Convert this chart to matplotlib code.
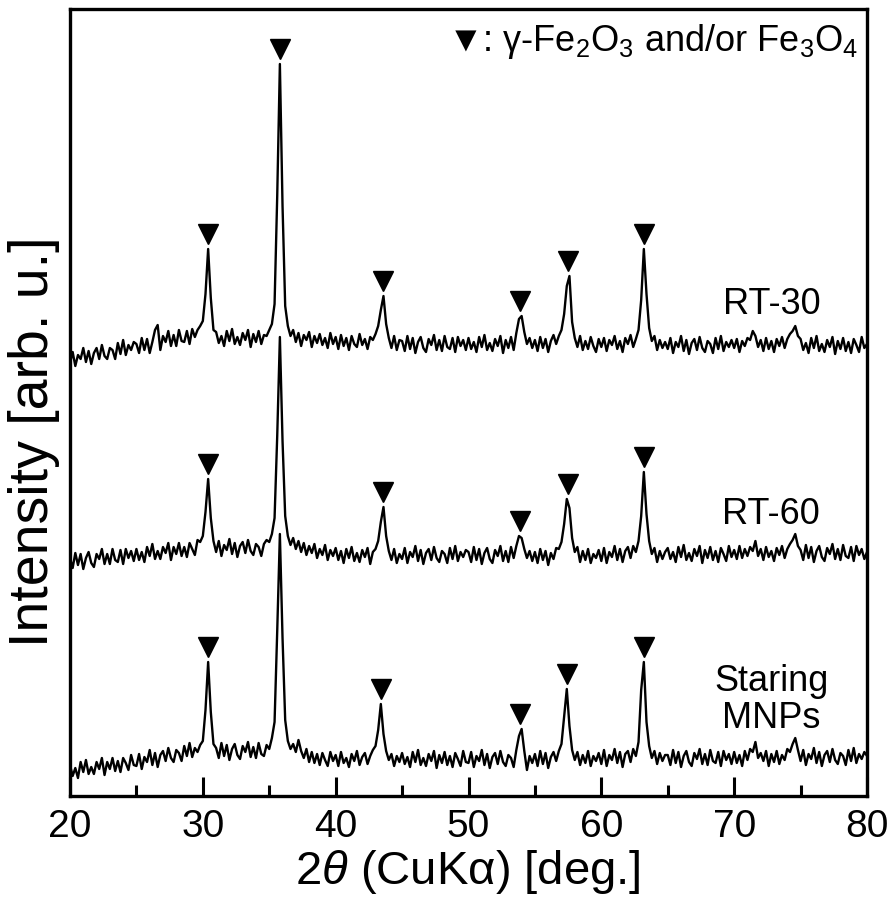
import numpy as np
import matplotlib
matplotlib.use("Agg")
import matplotlib.pyplot as plt
from matplotlib.transforms import ScaledTranslation

plt.rcParams['font.family'] = ['Liberation Sans', 'DejaVu Sans']
plt.rcParams['mathtext.fontset'] = 'custom'
plt.rcParams['mathtext.rm'] = 'Liberation Sans'
plt.rcParams['mathtext.it'] = 'Liberation Sans:italic'

# 2theta scan grid: 20-80 deg, 0.2 deg step
two_theta = np.linspace(20.0, 80.0, 301)

# Intensities (arb. u.), each row = 5 deg
staring_mnps = [
    31, 20, 28, 18, 34, 24, 36, 22, 29, 22, 34, 27, 38, 21, 34, 27, 38, 25, 35, 24, 38, 33, 26, 41, 31,
    30, 42, 27, 39, 34, 46, 31, 43, 29, 41, 45, 35, 48, 38, 34, 46, 43, 35, 50, 40, 53, 39, 48, 44, 51,
    55, 86, 134, 84, 52, 48, 38, 53, 40, 51, 36, 47, 52, 41, 37, 50, 44, 54, 39, 49, 38, 53, 42, 40, 51,
    47, 58, 74, 165, 262, 158, 76, 55, 47, 52, 44, 56, 45, 38, 47, 34, 44, 33, 42, 31, 43, 36, 30, 44, 35,
    41, 30, 44, 33, 38, 29, 42, 35, 45, 31, 39, 43, 32, 40, 46, 50, 66, 92, 62, 45, 36, 42, 30, 40, 34,
    43, 32, 39, 29, 44, 34, 46, 31, 38, 30, 42, 35, 45, 28, 41, 33, 44, 31, 40, 29, 43, 37, 30, 45, 34,
    33, 44, 29, 40, 35, 46, 31, 42, 28, 39, 43, 32, 45, 34, 30, 41, 38, 29, 46, 60, 67, 45, 26, 40, 33,
    42, 30, 45, 32, 43, 28, 39, 44, 35, 45, 52, 80, 107, 70, 46, 36, 44, 31, 41, 33, 45, 30, 40, 35, 43,
    32, 46, 30, 41, 36, 47, 33, 44, 29, 42, 45, 34, 47, 40, 54, 106, 134, 74, 50, 38, 45, 32, 43, 35, 41,
    41, 31, 46, 33, 44, 29, 40, 45, 34, 30, 43, 37, 47, 32, 42, 31, 46, 35, 33, 44, 30, 45, 36, 42, 32,
    44, 33, 41, 30, 45, 36, 47, 44, 54, 38, 43, 35, 45, 30, 42, 34, 45, 32, 41, 36, 47, 44, 52, 58, 46,
    35, 46, 31, 42, 37, 48, 33, 44, 30, 41, 45, 34, 47, 36, 32, 43, 40, 31, 46, 35, 48, 33, 42, 37, 44,
    40,
]

rt_60 = [
    38, 28, 43, 31, 42, 27, 38, 44, 33, 29, 42, 37, 47, 32, 42, 32, 47, 36, 34, 46, 32, 47, 38, 45, 35,
    47, 36, 44, 34, 49, 40, 52, 37, 45, 37, 49, 43, 53, 36, 49, 42, 53, 40, 49, 39, 53, 47, 41, 56, 54,
    60, 84, 117, 78, 55, 44, 55, 40, 51, 46, 57, 42, 53, 39, 50, 54, 43, 56, 45, 41, 52, 49, 40, 52, 56,
    54, 62, 78, 160, 259, 155, 80, 60, 51, 58, 47, 55, 44, 53, 41, 50, 43, 52, 38, 47, 41, 51, 36, 46, 40,
    48, 36, 45, 33, 47, 38, 49, 35, 43, 34, 46, 39, 48, 32, 44, 47, 55, 74, 89, 60, 45, 36, 47, 33, 42,
    37, 48, 33, 44, 39, 50, 35, 46, 32, 43, 47, 36, 49, 38, 34, 45, 42, 33, 48, 37, 50, 35, 44, 39, 46,
    44, 34, 49, 36, 47, 32, 43, 48, 37, 33, 46, 40, 50, 35, 45, 34, 49, 38, 50, 60, 58, 47, 38, 45, 35,
    44, 33, 47, 36, 45, 31, 43, 37, 48, 47, 54, 72, 97, 88, 58, 44, 49, 34, 45, 36, 47, 33, 42, 38, 46,
    35, 48, 33, 44, 39, 50, 36, 47, 34, 45, 49, 38, 50, 44, 55, 80, 124, 82, 55, 42, 48, 34, 45, 37, 44,
    48, 37, 44, 34, 49, 39, 51, 36, 43, 35, 47, 40, 50, 33, 46, 38, 49, 36, 45, 34, 48, 42, 35, 50, 39,
    46, 37, 50, 38, 47, 40, 49, 45, 55, 40, 47, 36, 49, 39, 45, 35, 48, 41, 50, 38, 47, 52, 56, 62, 50,
    46, 36, 51, 38, 49, 34, 45, 50, 39, 35, 48, 42, 52, 37, 47, 36, 51, 40, 38, 49, 35, 50, 41, 47, 37,
    44,
]

rt_30 = [
    33, 44, 30, 41, 37, 48, 34, 45, 32, 43, 48, 37, 51, 40, 37, 48, 46, 37, 53, 42, 56, 41, 51, 46, 54,
    52, 43, 58, 46, 57, 43, 54, 66, 71, 46, 60, 54, 65, 50, 61, 50, 66, 55, 54, 65, 52, 67, 59, 66, 70,
    75, 102, 147, 98, 66, 64, 53, 60, 50, 65, 55, 67, 52, 59, 51, 63, 56, 66, 49, 62, 54, 65, 52, 61, 60,
    66, 72, 92, 200, 332, 190, 90, 70, 60, 66, 54, 63, 50, 61, 56, 64, 49, 60, 53, 62, 51, 58, 48, 63, 52,
    59, 47, 61, 50, 58, 46, 60, 52, 49, 62, 51, 57, 47, 59, 56, 62, 70, 86, 100, 72, 58, 48, 60, 46, 56,
    55, 45, 60, 47, 58, 43, 54, 59, 48, 44, 57, 51, 61, 46, 56, 45, 60, 49, 47, 58, 44, 59, 50, 56, 46,
    58, 47, 54, 44, 59, 49, 61, 46, 53, 45, 57, 50, 60, 43, 56, 48, 59, 46, 63, 77, 80, 64, 52, 58, 48,
    56, 45, 59, 48, 57, 44, 55, 61, 52, 60, 66, 82, 110, 120, 74, 58, 49, 60, 46, 55, 47, 59, 50, 44, 57,
    49, 58, 45, 56, 51, 60, 47, 55, 44, 58, 52, 61, 49, 57, 66, 96, 147, 102, 68, 55, 60, 46, 56, 48, 54,
    47, 58, 43, 54, 49, 60, 45, 56, 42, 53, 57, 46, 59, 48, 44, 55, 52, 43, 58, 47, 60, 45, 54, 49, 56,
    48, 57, 44, 55, 50, 58, 56, 65, 60, 49, 56, 45, 58, 47, 55, 44, 57, 50, 59, 48, 57, 62, 65, 70, 60,
    57, 46, 53, 43, 58, 48, 60, 45, 52, 44, 56, 49, 59, 42, 55, 47, 58, 45, 54, 43, 57, 51, 44, 59, 48,
    52,
]

series_names = ["Staring\nMNPs", "RT-60", "RT-30"]
series_values = [staring_mnps, rt_60, rt_30]
# gamma-Fe2O3 / Fe3O4 reflections marked on each pattern
marked_peaks = [
    [30.4, 43.4, 53.9, 57.4, 63.2],
    [30.4, 43.6, 53.9, 57.5, 63.2],
    [30.4, 35.8, 43.6, 53.9, 57.5, 63.2],
]
x_ticks = [20, 30, 40, 50, 60, 70, 80]
x_label = r"2$\it{\theta}$ (CuKα) [deg.]"
y_label = "Intensity [arb. u.]"
legend_text = r"▼: γ-Fe$_2$O$_3$ and/or Fe$_3$O$_4$"

# vertical stacking offsets (layout)
offsets = [0, 200, 400]

W, H = 894, 904
fig = plt.figure(figsize=(W / 100, H / 100), dpi=100)
ax = fig.add_axes([70 / W, (H - 797) / H, (867 - 70) / W, (797 - 10) / H])

for vals, off in zip(series_values, offsets):
    ax.plot(two_theta, np.asarray(vals) + off, color='black', lw=1.7, zorder=3)

tri_shift = ScaledTranslation(0, 15 / 100, fig.dpi_scale_trans)
for vals, off, peaks in zip(series_values, offsets, marked_peaks):
    v = np.asarray(vals)
    ys = []
    for p in peaks:
        m = np.abs(two_theta - p) <= 0.31
        ys.append(v[m].max() + off)
    ax.plot(peaks, ys, linestyle='none', marker='v', ms=14, color='black',
            transform=ax.transData + tri_shift, zorder=4)

label_pos = [(72.8, 97), (72.8, 282), (72.8, 492)]
for name, (lx, ly) in zip(series_names, label_pos):
    ax.text(lx, ly, name, ha='center', va='center', fontsize=26, linespacing=1.05)

ax.text(0.988, 0.96, legend_text, transform=ax.transAxes, ha='right', va='center',
        fontsize=26)

ax.set_xlim(20, 80)
ax.set_ylim(0, 787)
ax.set_xticks(x_ticks)
ax.set_xticks(np.arange(25, 80, 10), minor=True)
ax.set_yticks([])
ax.tick_params(axis='x', which='major', direction='in', length=14, width=2.2,
               labelsize=28, pad=9, top=False)
ax.tick_params(axis='x', which='minor', direction='in', length=8, width=2.2, top=False)
for s in ax.spines.values():
    s.set_linewidth(2.4)

fig.text(468 / W, 1 - 872 / H, x_label, ha='center', va='center', fontsize=34)
fig.text(34 / W, 1 - 442 / H, y_label, ha='center', va='center', rotation=90, fontsize=40)

fig.savefig("out.png", dpi=100)
